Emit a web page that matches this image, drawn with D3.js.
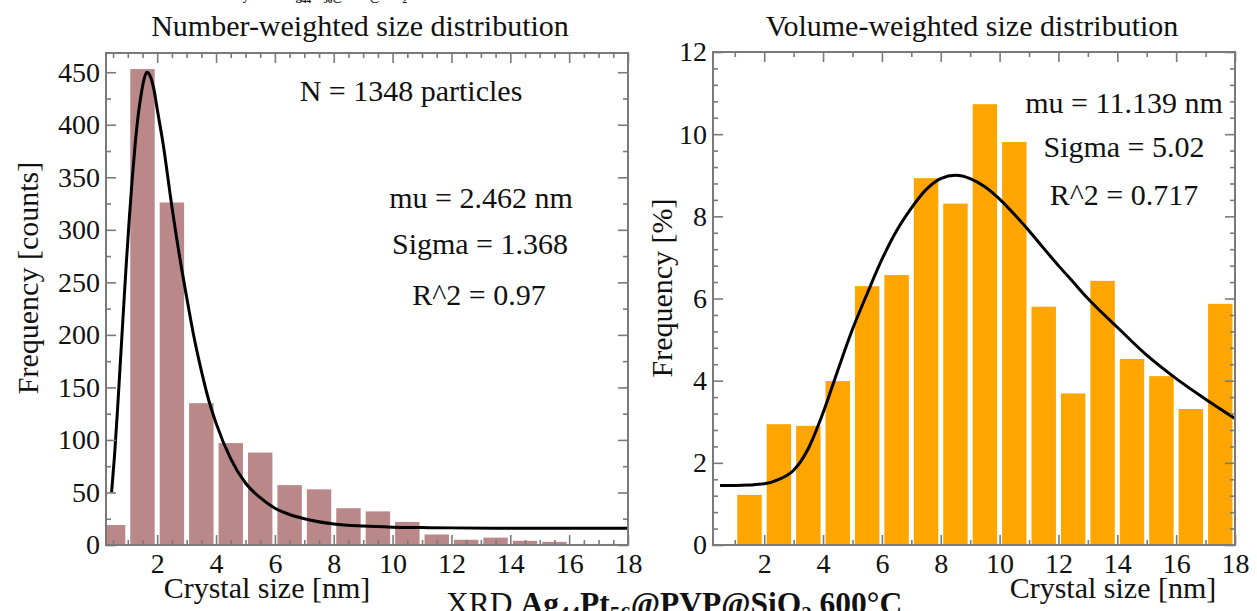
<!DOCTYPE html>
<html>
<head>
<meta charset="utf-8">
<script src="https://cdn.jsdelivr.net/npm/d3@7"></script>
<style>
  html, body { margin: 0; padding: 0; background: #fff; }
  svg { display: block; }
  text { font-family: "Liberation Serif", "Times New Roman", serif; fill: #111; }
</style>
</head>
<body>
<svg id="chart" width="1257" height="611"></svg>
<script>
// ---- Number-weighted histogram (counts per 1 nm bin, bins start at these edges) ----
const numberBinStarts = [0, 1, 2, 3, 4, 5, 6, 7, 8, 9, 10, 11, 12, 13, 14, 15, 16, 17];
const numberCounts    = [19, 453, 326, 135, 97, 88, 57, 53, 35, 32, 22, 10, 5, 7, 4, 3, 1, 1];

// Log-normal fit to the number-weighted histogram (sampled)
const numberFitX = [0.45, 0.55, 0.65, 0.75, 0.85, 0.95, 1.05, 1.15, 1.25, 1.35, 1.45, 1.55, 1.65, 1.75, 1.9, 2.0, 2.2, 2.5, 2.8, 3.0, 3.25, 3.5, 3.75, 4.0, 4.5, 5.0, 5.5, 6.0, 6.5, 7.0, 8.0, 9.0, 10, 11, 12, 14, 16, 18];
const numberFitY = [50, 85, 128, 175, 222, 268, 310, 348, 381, 408, 428, 443, 450, 447, 432, 415, 382, 322, 268, 236, 198, 166, 138, 116, 82, 59, 45, 35, 29, 25, 20, 18, 17, 16.6, 16.3, 16, 16, 16];

// ---- Volume-weighted histogram (% per 1 nm bin) ----
const volumeBinStarts = [1, 2, 3, 4, 5, 6, 7, 8, 9, 10, 11, 12, 13, 14, 15, 16, 17];
const volumePercent   = [1.22, 2.94, 2.90, 3.99, 6.30, 6.57, 8.93, 8.31, 10.73, 9.81, 5.80, 3.69, 6.43, 4.53, 4.11, 3.31, 5.87];

// Log-normal fit to the volume-weighted histogram (sampled)
const volumeFitX = [0.5, 1.0, 1.5, 2.0, 2.5, 3.0, 3.5, 4.0, 4.5, 5.0, 5.5, 6.0, 6.5, 7.0, 7.5, 8.0, 8.5, 9.0, 9.5, 10.0, 10.5, 11.0, 11.5, 12.0, 12.5, 13.0, 13.5, 14.0, 15.0, 16.0, 17.0, 18.0];
const volumeFitY = [1.45, 1.45, 1.46, 1.49, 1.60, 1.82, 2.35, 3.22, 4.25, 5.25, 6.12, 6.95, 7.65, 8.20, 8.65, 8.92, 9.00, 8.92, 8.72, 8.42, 8.05, 7.65, 7.22, 6.80, 6.40, 6.00, 5.64, 5.30, 4.62, 4.05, 3.55, 3.08];

// ---- Axis ticks ----
const sizeTicks        = [2, 4, 6, 8, 10, 12, 14, 16, 18];
const numberCountTicks = [0, 50, 100, 150, 200, 250, 300, 350, 400, 450];
const volumeTicks      = [0, 2, 4, 6, 8, 10, 12];

const sizeDomain = [0.26, 18];
const FRAME = "#7a7a7a";
const TICK_FONT = 28;
const svg = d3.select("#chart");

function addText(parent, str, x, y, opts = {}) {
  const t = parent.append("text")
    .attr("x", x).attr("y", y)
    .attr("font-size", opts.size || 30)
    .attr("text-anchor", opts.anchor || "middle")
    .text(str);
  if (opts.rotate) t.attr("transform", `rotate(${opts.rotate},${x},${y})`);
  return t;
}

function drawPanel(cfg) {
  const { x0, x1, y0, y1 } = cfg.box;
  const x = d3.scaleLinear().domain(sizeDomain).range([x0, x1]);
  const y = d3.scaleLinear().domain(cfg.yDomain).range([y1, y0]);
  const g = svg.append("g");

  g.append("clipPath").attr("id", cfg.id + "-clip")
    .append("rect").attr("x", x0).attr("y", y0).attr("width", x1 - x0).attr("height", y1 - y0);

  // histogram bars, one per 1 nm bin, with a thin white gap between bins
  const gap = 2.5;
  g.append("g").attr("clip-path", `url(#${cfg.id}-clip)`)
    .selectAll("rect").data(cfg.starts.map((s, i) => ({ s, v: cfg.values[i] })))
    .join("rect")
    .attr("x", d => x(d.s) + gap)
    .attr("width", d => x(d.s + 1) - x(d.s) - 2 * gap)
    .attr("y", d => y(d.v))
    .attr("height", d => y(0) - y(d.v))
    .attr("fill", cfg.color);

  // fitted curve
  const line = d3.line().x(d => x(d[0])).y(d => y(d[1])).curve(d3.curveMonotoneX);
  g.append("path")
    .datum(cfg.fitX.map((v, i) => [v, cfg.fitY[i]]))
    .attr("d", line)
    .attr("fill", "none")
    .attr("stroke", "#000")
    .attr("stroke-width", 3)
    .attr("stroke-linejoin", "round");

  // inward ticks on all four sides
  const style = sel => {
    sel.select(".domain").remove();
    sel.selectAll(".tick line").attr("stroke", FRAME).attr("stroke-width", 1.6);
    sel.selectAll(".tick text")
      .attr("font-size", TICK_FONT)
      .attr("font-family", '"Liberation Serif","Times New Roman",serif')
      .attr("fill", "#111");
  };
  const xMinor = cfg.xMinor.filter(v => !sizeTicks.includes(v));
  const yMinor = cfg.yMinor.filter(v => !cfg.yTicks.some(t => Math.abs(t - v) < 1e-6));

  g.append("g").attr("transform", `translate(0,${y1})`)
    .call(d3.axisBottom(x).tickValues(sizeTicks).tickSize(-10).tickPadding(8).tickFormat(d3.format("d"))).call(style);
  g.append("g").attr("transform", `translate(0,${y1})`)
    .call(d3.axisBottom(x).tickValues(xMinor).tickSize(-5).tickFormat("")).call(style);
  g.append("g").attr("transform", `translate(0,${y0})`)
    .call(d3.axisTop(x).tickValues(sizeTicks).tickSize(-10).tickFormat("")).call(style);
  g.append("g").attr("transform", `translate(0,${y0})`)
    .call(d3.axisTop(x).tickValues(xMinor).tickSize(-5).tickFormat("")).call(style);

  g.append("g").attr("transform", `translate(${x0},0)`)
    .call(d3.axisLeft(y).tickValues(cfg.yTicks).tickSize(-10).tickPadding(6).tickFormat(d3.format("d"))).call(style);
  g.append("g").attr("transform", `translate(${x0},0)`)
    .call(d3.axisLeft(y).tickValues(yMinor).tickSize(-5).tickFormat("")).call(style);
  g.append("g").attr("transform", `translate(${x1},0)`)
    .call(d3.axisRight(y).tickValues(cfg.yTicks).tickSize(-10).tickFormat("")).call(style);
  g.append("g").attr("transform", `translate(${x1},0)`)
    .call(d3.axisRight(y).tickValues(yMinor).tickSize(-5).tickFormat("")).call(style);

  // frame
  g.append("rect")
    .attr("x", x0).attr("y", y0).attr("width", x1 - x0).attr("height", y1 - y0)
    .attr("fill", "none").attr("stroke", FRAME).attr("stroke-width", 2);

  return g;
}

// Left panel: number-weighted
drawPanel({
  id: "number",
  box: { x0: 106, x1: 628, y0: 53, y1: 545 },
  yDomain: [0, 468.3],
  yTicks: numberCountTicks,
  yMinor: d3.range(0, 468, 25),
  xMinor: d3.range(0.5, 18.01, 0.5),
  starts: numberBinStarts,
  values: numberCounts,
  color: "#ba8888",
  fitX: numberFitX,
  fitY: numberFitY
});

// Right panel: volume-weighted
drawPanel({
  id: "volume",
  box: { x0: 713, x1: 1235, y0: 52, y1: 545 },
  yDomain: [0, 12],
  yTicks: volumeTicks,
  yMinor: d3.range(0, 31).map(i => +(i * 0.4).toFixed(1)),
  xMinor: d3.range(1, 18.01, 1),
  starts: volumeBinStarts,
  values: volumePercent,
  color: "#ffa500",
  fitX: volumeFitX,
  fitY: volumeFitY
});

// Panel titles
addText(svg, "Number-weighted size distribution", 360, 36);
addText(svg, "Volume-weighted size distribution", 972, 36);

// Axis titles
addText(svg, "Crystal size [nm]", 267, 598);
addText(svg, "Crystal size [nm]", 1113, 598);
addText(svg, "Frequency [counts]", 38, 278, { rotate: -90 });
addText(svg, "Frequency [%]", 672, 288, { rotate: -90 });

// Fit annotations
addText(svg, "N = 1348 particles", 411, 101);
addText(svg, "mu = 2.462 nm", 481, 208);
addText(svg, "Sigma = 1.368", 480, 254);
addText(svg, "R^2 = 0.97", 479, 305);

addText(svg, "mu = 11.139 nm", 1124, 113);
addText(svg, "Sigma = 5.02", 1124, 157);
addText(svg, "R^2 = 0.717", 1124, 205);

// Sample caption with chemical subscripts
function formula(parent, x, y, size, lead, anchor) {
  const sub = Math.round(size * 0.68), shift = Math.round(size * 0.22);
  const t = parent.append("text").attr("x", x).attr("y", y)
    .attr("font-size", size).attr("text-anchor", anchor || "start");
  if (lead) t.append("tspan").text(lead);
  const b = (s, opt = {}) => {
    const ts = t.append("tspan").attr("font-weight", "bold").text(s);
    if (opt.small) ts.attr("font-size", sub);
    if (opt.dy) ts.attr("dy", opt.dy);
    return ts;
  };
  b("Ag"); b("44", { small: 1, dy: shift }); b("Pt", { dy: -shift });
  b("56", { small: 1, dy: shift }); b("@PVP@SiO", { dy: -shift });
  b("2", { small: 1, dy: shift }); b(" 600°C", { dy: -shift });
  return t;
}
formula(svg, 446, 614, 31.5, "XRD ");

// Header line above the panels (only its lowest edge falls inside the frame)
svg.append("text").attr("x", 282).attr("y", -0.5).attr("font-size", 13)
  .attr("font-weight", "bold").attr("text-anchor", "end").text("Size distribution by TEM");
formula(svg, 286, -0.5, 13, null);
</script>
</body>
</html>
